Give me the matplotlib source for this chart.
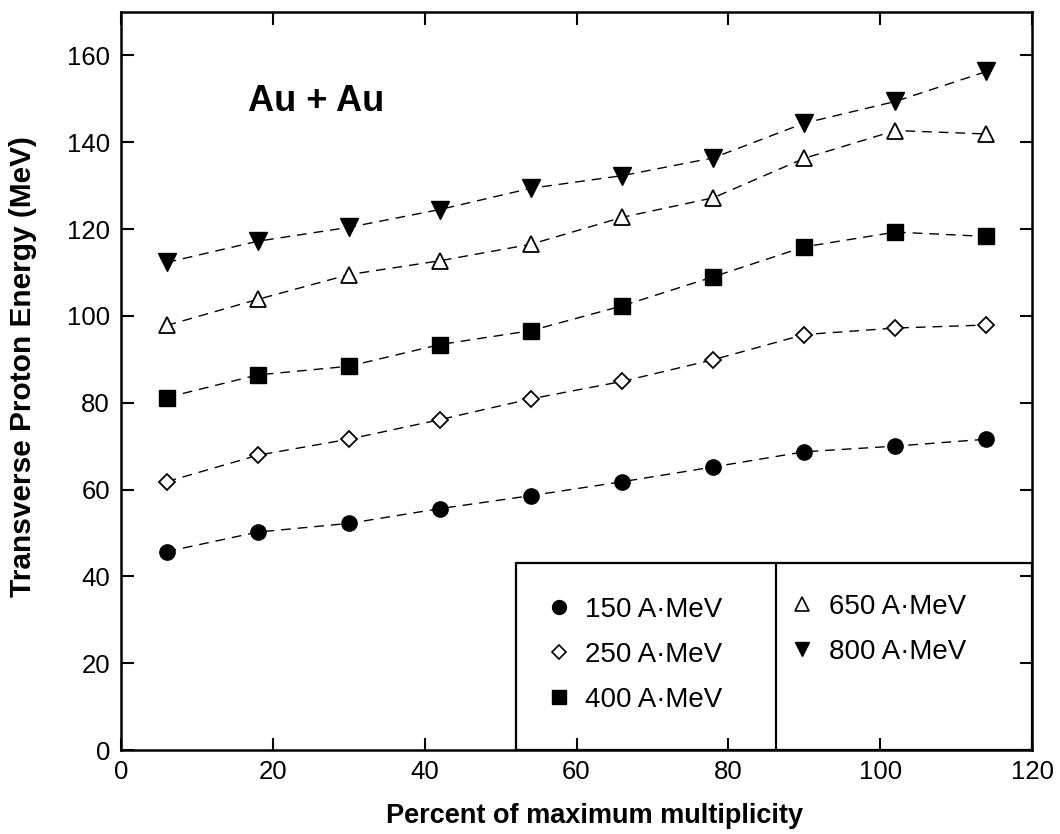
import matplotlib
matplotlib.use("Agg")
import matplotlib.pyplot as plt
from matplotlib.lines import Line2D
from matplotlib.patches import Rectangle

plt.rcParams['font.family'] = ['Liberation Sans', 'DejaVu Sans']

# percent of maximum multiplicity
mult = [6, 18, 30, 42, 54, 66, 78, 90, 102, 114]

# transverse proton energy (MeV)
e150 = [45.7, 50.2, 52.2, 55.6, 58.6, 61.8, 65.2, 68.7, 70.0, 71.6]
e250 = [61.8, 67.9, 71.6, 76.1, 80.9, 84.9, 89.9, 95.7, 97.2, 97.9]
e400 = [81.2, 86.4, 88.4, 93.4, 96.6, 102.3, 109.0, 115.9, 119.3, 118.3]
e650 = [97.8, 103.8, 109.5, 112.7, 116.5, 122.7, 127.2, 136.3, 142.7, 141.9]
e800 = [112.3, 117.2, 120.4, 124.5, 129.4, 132.3, 136.4, 144.4, 149.4, 156.3]

labels = ['150 A·MeV', '250 A·MeV', '400 A·MeV', '650 A·MeV', '800 A·MeV']

fig = plt.figure(figsize=(10.6, 8.34), dpi=100)
ax = fig.add_axes([0.1142, 0.1007, 0.8594, 0.8849])

dash = (7, 5)
ax.plot(mult, e150, 'k--', dashes=dash, lw=1.0, marker='o', ms=11, mfc='k', mec='k')
ax.plot(mult, e250, 'k--', dashes=dash, lw=1.0, marker='D', ms=8.6, mfc='white', mec='k', mew=1.3)
ax.plot(mult, e400, 'k--', dashes=dash, lw=1.0, marker='s', ms=11, mfc='k', mec='k')
ax.plot(mult, e650, 'k--', dashes=dash, lw=1.0, marker='^', ms=12, mfc='white', mec='k', mew=1.3)
ax.plot(mult, e800, 'k--', dashes=dash, lw=1.0, marker='v', ms=12.5, mfc='k', mec='k')

ax.set_xlim(0, 120)
ax.set_ylim(0, 170)
ax.set_xticks(range(0, 121, 20))
ax.set_yticks(range(0, 161, 20))
ax.tick_params(direction='in', length=9, width=1.5, top=True, right=True,
               labelsize=18.5)
ax.tick_params(axis='y', pad=8)
ax.tick_params(axis='x', pad=7)
for sp in ax.spines.values():
    sp.set_linewidth(1.8)

ax.set_xlabel('Percent of maximum multiplicity', fontsize=19.5, fontweight='bold')
ax.set_ylabel('Transverse Proton Energy (MeV)', fontsize=21.5, fontweight='bold')
ax.xaxis.set_label_coords(0.52, -0.072)
ax.yaxis.set_label_coords(-0.092, 0.52)

ax.text(16.7, 149.4, 'Au + Au', fontsize=26, fontweight='bold', va='center', ha='left')

# legend box with divider
ax.add_patch(Rectangle((52.0, 0), 68.0, 43.0, fill=False, ec='k', lw=1.6, zorder=3))
ax.plot([86.3, 86.3], [0, 43.0], color='k', lw=1.6, zorder=3)

kw = dict(linestyle='none', color='k', mec='k')
h = [Line2D([], [], marker='o', ms=10, mfc='k', **kw),
     Line2D([], [], marker='D', ms=7, mfc='white', mew=1.2, **kw),
     Line2D([], [], marker='s', ms=9.5, mfc='k', **kw),
     Line2D([], [], marker='^', ms=9.5, mfc='white', mew=1.2, **kw),
     Line2D([], [], marker='v', ms=10, mfc='k', **kw)]

leg_kw = dict(loc='upper left', bbox_transform=ax.transData, frameon=False,
              fontsize=20, handlelength=1.0, handletextpad=0.45,
              labelspacing=0.68, borderpad=0, borderaxespad=0)
leg1 = ax.legend(h[:3], labels[:3], bbox_to_anchor=(55.8, 35.2), **leg_kw)
ax.add_artist(leg1)
ax.legend(h[3:], labels[3:], bbox_to_anchor=(87.9, 36.0), **leg_kw)

fig.savefig('out.png', dpi=100)
